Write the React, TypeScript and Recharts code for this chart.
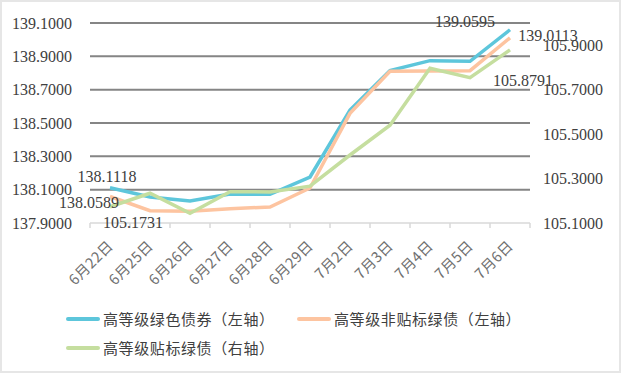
import React from 'react';
import { LineChart, Line, XAxis, YAxis, CartesianGrid, Legend } from 'recharts';

const categories = ['6月22日', '6月25日', '6月26日', '6月27日', '6月28日', '6月29日', '7月2日', '7月3日', '7月4日', '7月5日', '7月6日'];
const greenBondHigh = [138.1118, 138.056, 138.032, 138.074, 138.072, 138.176, 138.578, 138.814, 138.874, 138.87, 139.0595];
const nonLabeledHigh = [138.0589, 137.974, 137.97, 137.986, 137.996, 138.11, 138.558, 138.81, 138.812, 138.814, 139.0113];
const labeledHigh = [105.1731, 105.234, 105.144, 105.241, 105.24, 105.266, 105.406, 105.54, 105.796, 105.754, 105.8791];
const seriesNames = ['高等级绿色债券（左轴）', '高等级非贴标绿债（左轴）', '高等级贴标绿债（右轴）'];
const leftTicks = [137.9, 138.1, 138.3, 138.5, 138.7, 138.9, 139.1];
const rightTicks = [105.1, 105.3, 105.5, 105.7, 105.9];

const colors = ['#5DC6DB', '#FDC4A0', '#C5DE9F'];

const data = categories.map((c, i) => ({
  date: c,
  a: greenBondHigh[i],
  b: nonLabeledHigh[i],
  c: labeledHigh[i],
}));

const lastIndex = categories.length - 1;

const makeLabel = (first: [number, number], last: [number, number]) => (props: any) => {
  const { x, y, index, value } = props;
  let off: [number, number] | null = null;
  if (index === 0) off = first;
  else if (index === lastIndex) off = last;
  if (!off || value == null) return null;
  return (
    <text
      key={`l-${index}`}
      x={x + off[0]}
      y={y + off[1]}
      textAnchor="middle"
      dominantBaseline="central"
      fontFamily="'Liberation Serif', serif"
      fontSize={16}
      fill="#404040"
    >
      {Number(value).toFixed(4)}
    </text>
  );
};

const XTick = (props: any) => {
  const { x, y, payload, index } = props;
  const half = payload && typeof payload.offset === 'number' && payload.offset > 0 ? payload.offset : 20;
  const ty = y + 24;
  const tx = x + 4;
  return (
    <g>
      <line x1={x - half} x2={x - half} y1={y} y2={y + 5} stroke="#d9d9d9" strokeWidth={1.5} />
      {index === lastIndex && (
        <line x1={x + half} x2={x + half} y1={y} y2={y + 5} stroke="#d9d9d9" strokeWidth={1.5} />
      )}
      <text
        x={tx}
        y={ty}
        textAnchor="end"
        transform={`rotate(-45, ${tx}, ${ty})`}
        fontFamily="'Noto Sans CJK SC', sans-serif"
        fontSize={14.5}
        letterSpacing={0.4}
        fill="#707070"
      >
        {payload.value}
      </text>
    </g>
  );
};

const LegendContent = () => (
  <div
    style={{
      display: 'flex',
      flexWrap: 'wrap',
      paddingLeft: 66,
      width: 621,
      boxSizing: 'border-box',
    }}
  >
    {seriesNames.map((n, i) => (
      <div
        key={n}
        style={{ display: 'flex', alignItems: 'center', width: 231, height: 29 }}
      >
        <div style={{ width: 34, height: 4, background: colors[i], borderRadius: 2, marginRight: 3 }} />
        <span
          style={{
            fontFamily: "'Noto Sans CJK SC', sans-serif",
            fontSize: 15,
            letterSpacing: 0.6,
            color: '#404040',
            whiteSpace: 'nowrap',
            lineHeight: '29px',
          }}
        >
          {n}
        </span>
      </div>
    ))}
  </div>
);

export default function App() {
  return (
    <div style={{ position: 'absolute', left: 0, top: 0, width: 621, height: 373, background: '#fff' }}>
      <LineChart width={621} height={373} data={data} margin={{ top: 23, right: 0, bottom: 0, left: 0 }}>
        <CartesianGrid
          yAxisId="left"
          vertical={false}
          horizontalValues={leftTicks.slice(1)}
          stroke="#858585"
          strokeWidth={2}
        />
        <XAxis
          dataKey="date"
          scale="band"
          height={150}
          interval={0}
          axisLine={{ stroke: '#d9d9d9', strokeWidth: 1.5 }}
          tickLine={false}
          tickSize={0}
          tickMargin={0}
          tick={<XTick />}
        />
        <YAxis
          yAxisId="left"
          orientation="left"
          width={90}
          domain={[137.9, 139.1]}
          ticks={leftTicks}
          interval={0}
          axisLine={false}
          tickLine={false}
          tickSize={0}
          tickMargin={18}
          tickFormatter={(v: number) => v.toFixed(4)}
          tick={{ fontFamily: "'Liberation Serif', serif", fontSize: 16, fill: '#404040' }}
        />
        <YAxis
          yAxisId="right"
          orientation="right"
          width={91}
          domain={[105.1, 106.0]}
          ticks={rightTicks}
          interval={0}
          axisLine={false}
          tickLine={false}
          tickSize={0}
          tickMargin={13}
          tickFormatter={(v: number) => v.toFixed(4)}
          tick={{ fontFamily: "'Liberation Serif', serif", fontSize: 16, fill: '#404040', textAnchor: 'start' }}
        />
        <Legend
          layout="horizontal"
          verticalAlign="middle"
          align="center"
          content={<LegendContent />}
          wrapperStyle={{ top: 304, left: 0, width: 621 }}
        />
        <Line
          yAxisId="left"
          dataKey="a"
          name={seriesNames[0]}
          stroke={colors[0]}
          strokeWidth={3.5}
          dot={false}
          isAnimationActive={false}
          label={makeLabel([-3, -11], [-45, -8])}
        />
        <Line
          yAxisId="left"
          dataKey="b"
          name={seriesNames[1]}
          stroke={colors[1]}
          strokeWidth={3.5}
          dot={false}
          isAnimationActive={false}
          label={makeLabel([-21, 5.5], [38, -2])}
        />
        <Line
          yAxisId="right"
          dataKey="c"
          name={seriesNames[2]}
          stroke={colors[2]}
          strokeWidth={3.5}
          dot={false}
          isAnimationActive={false}
          label={makeLabel([23, 16], [13, 31])}
        />
      </LineChart>
      <div
        style={{
          position: 'absolute',
          inset: 0,
          border: '2px solid #e6e6e6',
          boxSizing: 'border-box',
          pointerEvents: 'none',
        }}
      />
    </div>
  );
}
